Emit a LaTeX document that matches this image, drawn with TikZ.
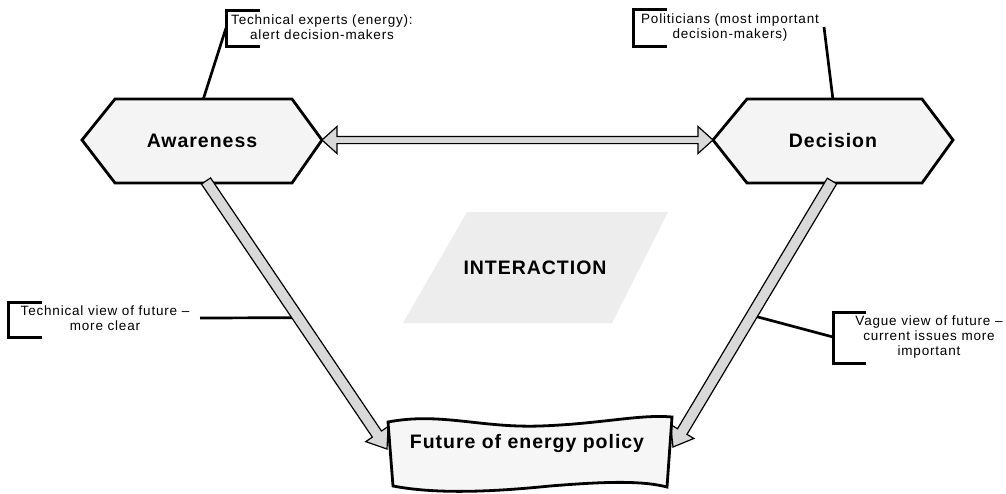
\documentclass[tikz,border=0pt]{standalone}
\usepackage{fontspec}
\setmainfont{Liberation Sans}
\usetikzlibrary{calc}

\definecolor{hexfill}{gray}{0.955}
\definecolor{arrowfill}{gray}{0.85}
\definecolor{interfill}{gray}{0.93}
\definecolor{futfill}{gray}{0.965}

\newfontfamily\notefont[LetterSpace=6]{Liberation Sans}
\newfontfamily\labelfont[LetterSpace=5]{Liberation Sans Bold}

% broad block arrow from #1 (tail) to #2 (tip)
\newcommand{\fatarrow}[2]{%
  \path ($(#2)!18pt!(#1)$) coordinate (fa-h);
  \draw[blockarrow] ($(#1)!5.5pt!90:(#2)$) -- ($(fa-h)!5.5pt!-90:(#1)$)
    -- ($(fa-h)!13.5pt!-90:(#1)$) -- (#2) -- ($(fa-h)!13.5pt!90:(#1)$)
    -- ($(fa-h)!5.5pt!90:(#1)$) -- ($(#1)!5.5pt!-90:(#2)$) -- cycle;}

\begin{document}
\begin{tikzpicture}[x=1pt,y=-1pt,
  hexbox/.style={draw=black, line width=2.8pt, fill=hexfill, line join=miter},
  futbox/.style={draw=black, line width=2.8pt, fill=futfill, line join=miter},
  bigtext/.style={font=\fontsize{19.5}{22}\labelfont, inner sep=0pt},
  note/.style={font=\fontsize{13.5}{15}\notefont, align=center, inner sep=0pt},
  bracket/.style={line width=3pt},
  leader/.style={line width=2.7pt},
  blockarrow/.style={draw=black, line width=1.2pt, fill=arrowfill, line join=miter},
]
\useasboundingbox (0,0) rectangle (1006,493);

% central interaction field
\fill[interfill] (467,212) -- (668,212) -- (612,323) -- (403,323) -- cycle;
\node[bigtext] (inter) at (535,268) {INTERACTION};

% arrow end points
\coordinate (aw-tail) at (206,181);
\coordinate (fut-l) at (387,449);
\coordinate (de-tail) at (832,181);
\coordinate (fut-r) at (673,447);
\coordinate (aw-r) at (322,140);
\coordinate (de-l) at (713,140);

% callout leaders
\coordinate (aw-top) at (203,100);
\coordinate (te-mid) at (226,28);
\coordinate (de-top) at (833,100);
\coordinate (po-end) at (824,27);
\coordinate (tv-end) at (200,318);
\coordinate (vv-mid) at (833,337);
\draw[leader] (aw-top) -- (te-mid);
\draw[leader] (de-top) -- (po-end);
\draw[leader] (tv-end) -- ($(aw-tail)!0.51!(fut-l)$);
\draw[leader] (vv-mid) -- ($(de-tail)!0.505!(fut-r)$);

% brackets
\draw[bracket] (260,10) -- (226,10) -- (226,46) -- (260,46);
\draw[bracket] (667,9) -- (633,9) -- (633,46) -- (667,46);
\draw[bracket] (42,302) -- (8,302) -- (8,337) -- (42,337);
\draw[bracket] (866,312) -- (833,312) -- (833,363) -- (866,363);

% hexagons
\draw[hexbox] (82,140) -- (115,99) -- (292,99) -- (322,140) -- (292,183) -- (115,183) -- cycle;
\node[bigtext] (aw) at (202,141) {Awareness};
\draw[hexbox] (713,140) -- (747,99) -- (922,99) -- (953,140) -- (922,183) -- (747,183) -- cycle;
\node[bigtext] (de) at (833,141) {Decision};

% double arrow between awareness and decision
\path ($(aw-r)!15pt!(de-l)$) coordinate (h1) ($(de-l)!15pt!(aw-r)$) coordinate (h2);
\draw[blockarrow] (aw-r) -- ($(h1)!13.5pt!90:(de-l)$) -- ($(h1)!3.6pt!90:(de-l)$)
  -- ($(h2)!3.6pt!-90:(aw-r)$) -- ($(h2)!13.5pt!-90:(aw-r)$) -- (de-l)
  -- ($(h2)!13.5pt!90:(aw-r)$) -- ($(h2)!3.6pt!90:(aw-r)$)
  -- ($(h1)!3.6pt!-90:(de-l)$) -- ($(h1)!13.5pt!-90:(de-l)$) -- cycle;

% diagonal arrows
\fatarrow{aw-tail}{fut-l}
\fatarrow{de-tail}{fut-r}

% wavy box
\draw[futbox] (388,422) .. controls (440,412) and (480,428) .. (540,426)
  .. controls (600,424) and (640,414) .. (672,417)
  -- (667,487) .. controls (640,480) and (600,482) .. (550,486)
  .. controls (500,491) and (440,495) .. (393,486) -- cycle;
\node[bigtext] (fut) at (527,443) {Future of energy policy};

% notes
\node[note] (te) at (322,27) {Technical experts (energy):\\alert decision-makers};
\node[note] (po) at (730,27.5) {Politicians (most important\\decision-makers)};
\node[note] (tv) at (105,318.5) {Technical view of future –\\more clear};
\node[note] (vv) at (929,337) {Vague view of future –\\current issues more\\important};
\end{tikzpicture}
\end{document}
